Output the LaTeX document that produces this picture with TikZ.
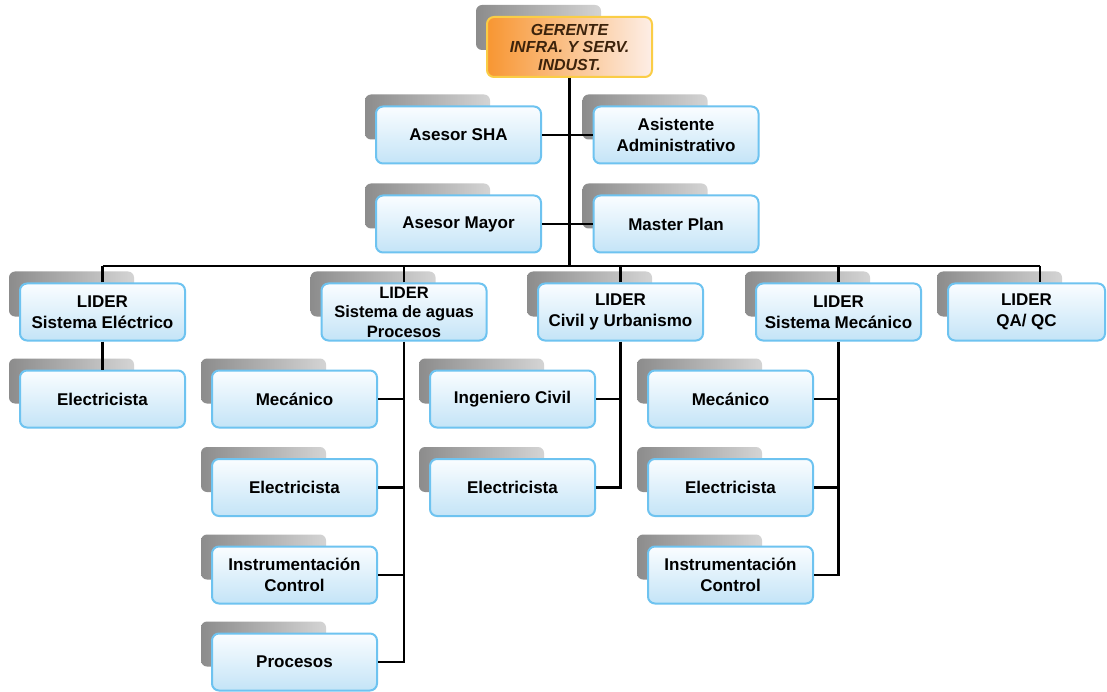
\documentclass[tikz,border=0pt]{standalone}
\usepackage{fontspec}
\setmainfont{Liberation Sans}
\usetikzlibrary{calc,backgrounds}
\definecolor{bordc}{RGB}{110,195,240}
\definecolor{boxlight}{RGB}{250,253,255}
\definecolor{boxblue}{RGB}{196,228,247}
\definecolor{gerl}{RGB}{248,150,50}
\definecolor{gerr}{RGB}{253,238,230}
\definecolor{gerb}{RGB}{250,205,70}
\definecolor{gertext}{RGB}{60,35,12}
\definecolor{shdark}{RGB}{140,140,140}
\definecolor{shlight}{RGB}{212,212,212}
\begin{document}
\begin{tikzpicture}[x=1pt,y=-1pt,
  conn/.style={line width=2.4pt, black},
  backshadow/.style={rounded corners=6pt, left color=shdark, right color=shlight},
  unitbox/.style={draw=bordc, line width=2pt, rounded corners=7pt,
    minimum width=165pt, minimum height=57pt, align=center, inner sep=2pt,
    top color=boxlight, bottom color=boxblue,
    font=\fontsize{17}{21}\selectfont\bfseries},
  gerbox/.style={draw=gerb, line width=2pt, rounded corners=7pt,
    minimum width=165pt, minimum height=60pt, align=center, inner sep=2pt,
    left color=gerl, right color=gerr, text=gertext,
    font=\fontsize{16}{17.5}\selectfont\bfseries\itshape}
]
\useasboundingbox (0,0) rectangle (1107,692);

% top
\node[gerbox] (ger) at (569.5,47) {GERENTE\\INFRA. Y SERV.\\INDUST.};
\node[unitbox] (sha) at (458.5,135) {Asesor SHA};
\node[unitbox] (asis) at (676,135) {Asistente\\Administrativo};
\node[unitbox] (may) at (458.5,224) {Asesor Mayor};
\node[unitbox] (mp) at (676,224) {Master Plan};

% leaders
\node[unitbox] (l1) at (102.5,312) {LIDER\\Sistema Eléctrico};
\node[unitbox, font=\fontsize{16.5}{19.5}\selectfont\bfseries] (l2) at (404,312) {LIDER\\Sistema de aguas\\Procesos};
\node[unitbox] (l3) at (620.5,312) {LIDER\\Civil y Urbanismo};
\node[unitbox] (l4) at (838.5,312) {LIDER\\Sistema Mecánico};
\node[unitbox, minimum width=157pt] (l5) at (1026.5,312) {LIDER\\QA/ QC};

% children
\node[unitbox] (e1) at (102.5,399) {Electricista};
\node[unitbox] (a1) at (294.5,399) {Mecánico};
\node[unitbox] (a2) at (294.5,487.5) {Electricista};
\node[unitbox] (a3) at (294.5,575) {Instrumentación\\Control};
\node[unitbox] (a4) at (294.5,662) {Procesos};
\node[unitbox] (c1) at (512.5,399) {Ingeniero Civil};
\node[unitbox] (c2) at (512.5,487.5) {Electricista};
\node[unitbox] (m1) at (730.5,399) {Mecánico};
\node[unitbox] (m2) at (730.5,487.5) {Electricista};
\node[unitbox] (m3) at (730.5,575) {Instrumentación\\Control};

% shadows behind boxes
\begin{scope}[on background layer]
\fill[white] (0,0) rectangle (1107,692);
\foreach \n in {ger,sha,asis,may,mp,l1,l2,l3,l4,l5,e1,a1,a2,a3,a4,c1,c2,m1,m2,m3}
  \path[backshadow] ($(\n.north west)+(-10,-11)$) rectangle ($(\n.north west)+(115,34)$);
\end{scope}

% connectors
\coordinate (busL) at (102.5,266);
\coordinate (busR) at (1040,266);
\draw[conn] (busL) -- (busR);
\draw[conn] (ger.south) -- (ger.south |- busL);
\draw[conn] (sha.east) -- (asis.west);
\draw[conn] (may.east) -- (mp.west);
\draw[conn] (l1.north) -- (l1.north |- busL);
\draw[conn] (l2.north) -- (l2.north |- busL);
\draw[conn] (l3.north) -- (l3.north |- busL);
\draw[conn] (l4.north) -- (l4.north |- busL);
\draw[conn] (busR) -- (busR |- l5.north);
\draw[conn] (l1.south) -- (e1.north);
\draw[conn] (l2.south) -- (l2.south |- a4.east) -- (a4.east);
\draw[conn] (a1.east) -- (a1.east -| l2.south);
\draw[conn] (a2.east) -- (a2.east -| l2.south);
\draw[conn] (a3.east) -- (a3.east -| l2.south);
\draw[conn] (l3.south) -- (l3.south |- c2.east) -- (c2.east);
\draw[conn] (c1.east) -- (c1.east -| l3.south);
\draw[conn] (l4.south) -- (l4.south |- m3.east) -- (m3.east);
\draw[conn] (m1.east) -- (m1.east -| l4.south);
\draw[conn] (m2.east) -- (m2.east -| l4.south);
\end{tikzpicture}
\end{document}
